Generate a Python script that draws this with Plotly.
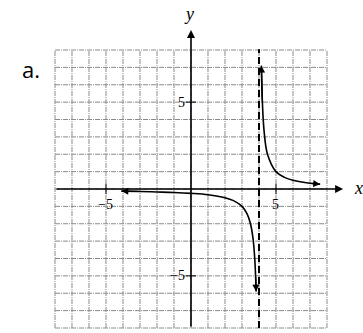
import plotly.graph_objects as go

# ---- data ----
grid_vals = list(range(-8, 9))
asymptote_x = 4
left_x = [-4.1, -3, -2, -1, 0, 1, 2, 2.5, 3, 3.3, 3.5, 3.65, 3.75, 3.8, 3.83]
left_y = [-0.12, -0.14, -0.17, -0.2, -0.25, -0.33, -0.5, -0.67, -1, -1.43, -2, -2.86, -4, -5, -5.9]
right_x = [4.14, 4.2, 4.3, 4.5, 5, 5.5, 6, 7, 7.6]
right_y = [7.1, 5, 3.33, 2, 1, 0.67, 0.5, 0.33, 0.28]
tick_vals = [-5, 5]
tick_text = ["\u22125", "5"]

fig = go.Figure()

grid_style = dict(color="#8a8a8a", width=1, dash="5px,1px,1px,1px")
shapes = []
for v in grid_vals:
    shapes.append(dict(type="line", x0=v, x1=v, y0=-8, y1=8, line=grid_style, layer="below"))
    shapes.append(dict(type="line", x0=-8, x1=8, y0=v, y1=v, line=grid_style, layer="below"))
# asymptote
shapes.append(dict(type="line", x0=asymptote_x, x1=asymptote_x, y0=-8, y1=8.05,
                   line=dict(color="black", width=2, dash="7px,4px")))
# tick marks
for t in tick_vals:
    shapes.append(dict(type="line", x0=t, x1=t, y0=-0.3, y1=0.3, line=dict(color="black", width=1)))
    shapes.append(dict(type="line", x0=-0.3, x1=0.3, y0=t, y1=t, line=dict(color="black", width=1)))

fig.add_trace(go.Scatter(x=left_x, y=left_y, mode="lines", line=dict(color="black", width=1.6, shape="spline"),
                         hoverinfo="skip", showlegend=False))
fig.add_trace(go.Scatter(x=right_x, y=right_y, mode="lines", line=dict(color="black", width=1.6, shape="spline"),
                         hoverinfo="skip", showlegend=False))

ann = []
def arrow(x, y, ax, ay, w=1.5):
    ann.append(dict(x=x, y=y, ax=ax, ay=ay, xref="x", yref="y", axref="x", ayref="y",
                    showarrow=True, arrowhead=2, arrowsize=1, arrowwidth=w, arrowcolor="black", text=""))

# axes with arrows
arrow(8.95, 0, -8, 0, 1.6)
arrow(0, 9.15, 0, -8, 1.6)
# curve end arrows
arrow(left_x[0], left_y[0], left_x[1], left_y[1], 1.4)
arrow(left_x[-1], left_y[-1], left_x[-2], left_y[-2], 1.4)
arrow(right_x[0], right_y[0], right_x[1], right_y[1], 1.4)
arrow(right_x[-1], right_y[-1], right_x[-2], right_y[-2], 1.4)

serif = dict(family="Liberation Serif", size=14, color="black")
for t, s in zip(tick_vals, tick_text):
    ann.append(dict(x=t, y=-0.35, text=s, showarrow=False, xref="x", yref="y",
                    yanchor="top", xanchor="center", font=serif))
    ann.append(dict(x=-0.25, y=t, text=s, showarrow=False, xref="x", yref="y",
                    yanchor="middle", xanchor="right", font=serif))
ann.append(dict(x=9.85, y=0.05, text="<i>x</i>", showarrow=False, xref="x", yref="y",
                font=dict(family="Liberation Serif", size=18, color="black")))
ann.append(dict(x=-0.1, y=10.05, text="<i>y</i>", showarrow=False, xref="x", yref="y",
                font=dict(family="Liberation Serif", size=18, color="black")))
ann.append(dict(x=-9.4, y=6.9, text="a.", showarrow=False, xref="x", yref="y",
                font=dict(family="Open Sans", size=22, color="black")))

fig.update_layout(
    width=363, height=333,
    margin=dict(l=0, r=0, t=0, b=0),
    paper_bgcolor="white", plot_bgcolor="white",
    xaxis=dict(range=[-11.235, 10.118], visible=False, fixedrange=True),
    yaxis=dict(range=[-8.288, 10.878], visible=False, fixedrange=True),
    shapes=shapes, annotations=ann, showlegend=False,
)

fig.write_html("out.html", config=dict(displayModeBar=False),
               post_script="document.body.style.margin='0';document.body.style.overflow='hidden';")
